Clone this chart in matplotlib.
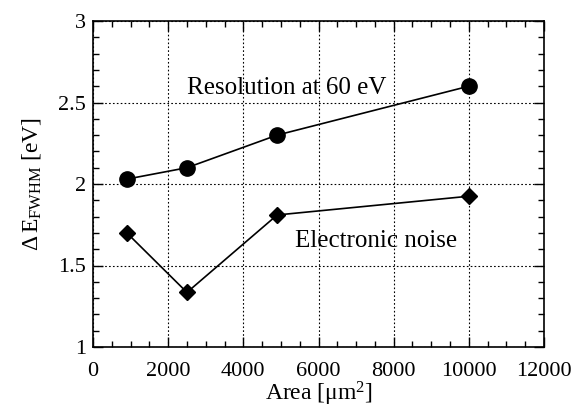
import matplotlib
matplotlib.use("Agg")
import matplotlib.pyplot as plt
from matplotlib.ticker import MultipleLocator

plt.rcParams['font.family'] = ['Liberation Serif', 'DejaVu Serif']
plt.rcParams['mathtext.fontset'] = 'stix'

# data
area_res = [900, 2500, 4900, 10000]
resolution = [2.03, 2.10, 2.30, 2.60]
area_noise = [900, 2500, 4900, 10000]
noise = [1.70, 1.335, 1.81, 1.925]

fig = plt.figure(figsize=(5.71, 4.09), dpi=100)
ax = fig.add_axes([93 / 571, 1 - 347 / 409, 451 / 571, 326 / 409])

ax.plot(area_res, resolution, color='black', lw=1.2, marker='o', ms=11)
ax.plot(area_noise, noise, color='black', lw=1.2, marker='D', ms=8.5)

ax.set_xlim(0, 12000)
ax.set_ylim(1, 3)
ax.xaxis.set_major_locator(MultipleLocator(2000))
ax.xaxis.set_minor_locator(MultipleLocator(500))
ax.yaxis.set_minor_locator(MultipleLocator(0.1))
ax.set_yticks([1, 1.5, 2, 2.5, 3])
ax.set_yticklabels(['1', '1.5', '2', '2.5', '3'])

ax.tick_params(which='both', direction='in', top=True, right=True, labelsize=16, color='black')
ax.tick_params(which='major', length=7, width=1)
ax.tick_params(which='minor', length=4, width=1)
ax.tick_params(axis='x', which='major', pad=11)
ax.tick_params(axis='y', which='major', pad=5)
ax.grid(True, which='major', linestyle=(0, (1.5, 2)), color='black', lw=0.8)
for s in ax.spines.values():
    s.set_linewidth(1.2)

ax.text(5150, 2.59, 'Resolution at 60 eV', fontsize=18, ha='center', va='center')
ax.text(7530, 1.65, 'Electronic noise', fontsize=18, ha='center', va='center')

ax.set_xlabel(r'Area [$\mathregular{\mu m^2}$]', fontsize=17, labelpad=-1)
ax.set_ylabel(r'$\mathregular{\Delta\,E_{FWHM}}$ [eV]', fontsize=17, labelpad=11)

fig.savefig('out.png', dpi=100)
